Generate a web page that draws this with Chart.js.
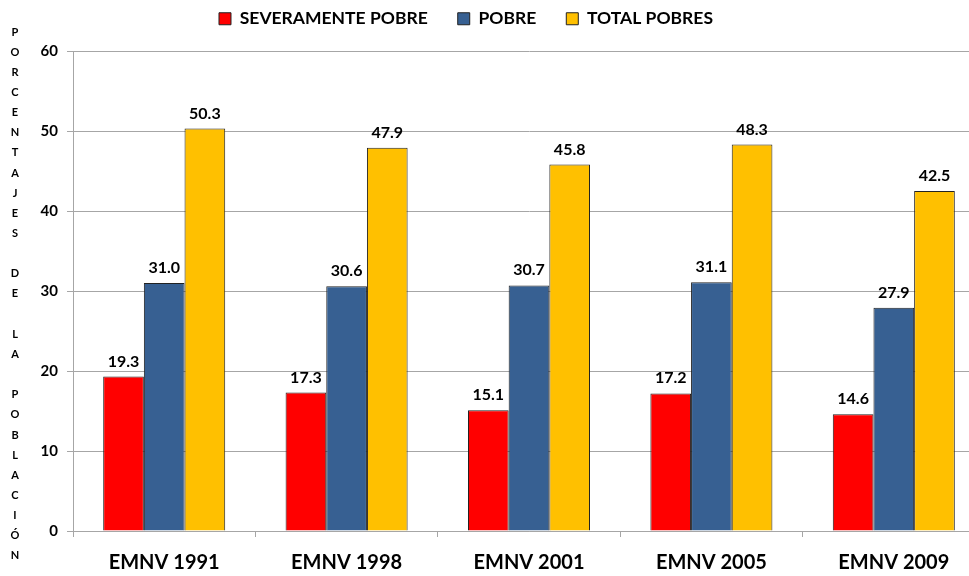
<!DOCTYPE html>
<html>
<head>
<meta charset="utf-8">
<script src="https://cdn.jsdelivr.net/npm/chart.js@4/dist/chart.umd.min.js"></script>
<style>
  html, body { margin: 0; padding: 0; overflow: hidden; background: #fff; width: 969px; height: 576px; }
  #wrap { position: absolute; left: -53px; top: 0; width: 1038px; height: 576px; }
</style>
</head>
<body>
<div id="wrap"><canvas id="c" width="1038" height="576"></canvas></div>
<script>
const categories = ['EMNV 1991', 'EMNV 1998', 'EMNV 2001', 'EMNV 2005', 'EMNV 2009'];
const severamentePobre = [19.3, 17.3, 15.1, 17.2, 14.6];
const pobre = [31.0, 30.6, 30.7, 31.1, 27.9];
const totalPobres = [50.3, 47.9, 45.8, 48.3, 42.5];
const seriesLabels = ['SEVERAMENTE POBRE', 'POBRE', 'TOTAL POBRES'];
const yTicks = [0, 10, 20, 30, 40, 50, 60];
const yTitle = 'PORCENTAJES DE LA POBLACIÓN';

const FONT = 'Lato, "Liberation Sans", sans-serif';
const GRID = '#a6a6a6';

const legendTweak = {
  id: 'legendTweak',
  beforeLayout(chart) {
    const lg = chart.legend;
    if (lg && !lg._patched) {
      const fit = lg.fit;
      lg.fit = function () { fit.call(this); this.height = 51; };
      lg._patched = true;
    }
  },
  afterLayout(chart) {
    const lg = chart.legend;
    if (lg) { lg.top -= 20; lg.bottom -= 20; }
  }
};

const valueLabels = {
  id: 'valueLabels',
  afterDatasetsDraw(chart) {
    const ctx = chart.ctx;
    ctx.save();
    ctx.font = 'bold 16px ' + FONT;
    ctx.fillStyle = '#000';
    ctx.textAlign = 'center';
    ctx.textBaseline = 'alphabetic';
    chart.data.datasets.forEach((ds, i) => {
      const meta = chart.getDatasetMeta(i);
      meta.data.forEach((el, j) => {
        ctx.fillText(ds.data[j].toFixed(1), el.x, el.y - 10);
      });
    });
    ctx.restore();
  }
};

const yTitlePlugin = {
  id: 'yTitlePlugin',
  afterDraw(chart) {
    const ctx = chart.ctx;
    ctx.save();
    ctx.font = 'bold 11px ' + FONT;
    ctx.fillStyle = '#000';
    ctx.textAlign = 'center';
    ctx.textBaseline = 'middle';
    const chars = Array.from(yTitle);
    const step = 20.15;
    chars.forEach((ch, k) => {
      if (ch !== ' ') ctx.fillText(ch, 68, 32 + k * step);
    });
    ctx.restore();
  }
};

new Chart(document.getElementById('c'), {
  type: 'bar',
  data: {
    labels: categories,
    datasets: [
      { label: seriesLabels[0], data: severamentePobre, backgroundColor: '#FF0000', borderColor: '#222222', borderWidth: 1 },
      { label: seriesLabels[1], data: pobre, backgroundColor: '#376092', borderColor: '#222222', borderWidth: 1 },
      { label: seriesLabels[2], data: totalPobres, backgroundColor: '#FFC000', borderColor: '#222222', borderWidth: 1 }
    ]
  },
  options: {
    responsive: false,
    animation: false,
    devicePixelRatio: 1,
    layout: { padding: 0 },
    datasets: { bar: { categoryPercentage: 0.669, barPercentage: 1 } },
    plugins: {
      tooltip: { enabled: false },
      legend: {
        position: 'top',
        align: 'center',
        labels: {
          boxWidth: 12, boxHeight: 12, padding: 30,
          color: '#000',
          font: { family: FONT, size: 17.5, weight: 'bold' }
        }
      }
    },
    scales: {
      x: {
        grid: { drawOnChartArea: false, drawTicks: true, tickLength: 6, color: GRID, offset: true },
        border: { color: GRID },
        ticks: { color: '#000', padding: 14, font: { family: FONT, size: 20, weight: 'bold' } },
        afterFit(scale) { scale.height = 45; }
      },
      y: {
        min: 0, max: 60,
        afterBuildTicks(scale) { scale.ticks = yTicks.map(v => ({ value: v })); },
        grid: { color: GRID, tickLength: 6 },
        border: { color: GRID },
        ticks: { color: '#000', padding: 9, font: { family: FONT, size: 15, weight: 'bold' } },
        afterFit(scale) { scale.width = 126; }
      }
    }
  },
  plugins: [legendTweak, valueLabels, yTitlePlugin]
});
</script>
</body>
</html>
